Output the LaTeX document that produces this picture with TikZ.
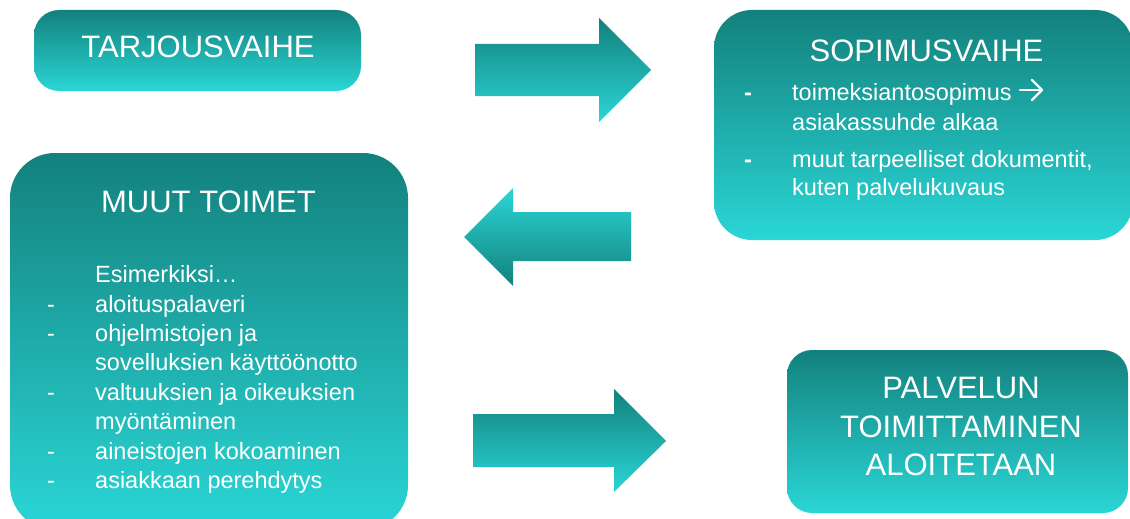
\documentclass[tikz,border=0pt]{standalone}
\usepackage{fontspec}
\setmainfont{Liberation Sans}
\definecolor{tealdark}{RGB}{19,129,125}
\definecolor{teallight}{RGB}{42,214,214}
\begin{document}
\begin{tikzpicture}[x=1pt,y=-1pt,
  box/.style={top color=tealdark,bottom color=teallight,draw=none},
  bigarrow/.style={top color=tealdark,bottom color=teallight,draw=none},
  bigarrowrev/.style={top color=teallight,bottom color=tealdark,draw=none},
  ttl/.style={inner sep=0pt,anchor=base,text=white,font=\fontsize{31}{37}\selectfont},
  txt/.style={inner sep=0pt,anchor=base west,text=white,font=\fontsize{23.5}{29}\selectfont},
  dsh/.style={inner sep=0pt,anchor=base west,text=white,font=\fontsize{23.5}{29}\selectfont},
  textarrow/.style={draw=white,line width=2.4pt,line cap=round,line join=round}]
\useasboundingbox (0,0) rectangle (1130,519);
\clip (0,0) rectangle (1130,519);
% boxes
\shade[box,rounded corners=25pt] (34,10) rectangle (361,91);
\shade[box,rounded corners=38pt] (714,10) rectangle (1133,240);
\shade[box,rounded corners=45pt] (10,153) rectangle (408,530);
\shade[box,rounded corners=25pt] (787,350) rectangle (1128,513);
% block arrows
\shade[bigarrow] (475,44) -- (599,44) -- (599,18) -- (651,70) -- (599,122) -- (599,96) -- (475,96) -- cycle;
\shade[bigarrowrev] (631,212) -- (513,212) -- (513,188) -- (464,237) -- (513,286) -- (513,261) -- (631,261) -- cycle;
\shade[bigarrow] (473,414) -- (614,414) -- (614,389) -- (666,441) -- (614,492) -- (614,467) -- (473,467) -- cycle;
% titles
\node[ttl] (t1) at (198,58) {TARJOUSVAIHE};
\node[ttl] (t2) at (926.5,62) {SOPIMUSVAIHE};
\node[ttl] (t3) at (208.5,212) {MUUT TOIMET};
\node[ttl] (t4a) at (961,398) {PALVELUN};
\node[ttl] (t4b) at (961,437) {TOIMITTAMINEN};
\node[ttl] (t4c) at (961,475) {ALOITETAAN};
% sopimus bullets
\node[dsh] (sd1) at (744,100) {\textbf{-}};
\node[dsh] (sd2) at (744,167) {\textbf{-}};
\node[txt] (s1) at (792,100) {toimeksiantosopimus};
\coordinate (arA) at (1020,90);
\coordinate (arB) at (1042,90);
\draw[textarrow] (arA) -- (arB);
\draw[textarrow] (1032,80) -- (arB) -- (1032,100);
\node[txt] (s2) at (792,130) {asiakassuhde alkaa};
\node[txt] (s3) at (792,167) {muut tarpeelliset dokumentit,};
\node[txt] (s4) at (792,195) {kuten palvelukuvaus};
% muut toimet list
\node[txt] (m0) at (95,282) {Esimerkiksi…};
\node[txt] (m1) at (95,312) {aloituspalaveri};
\node[txt] (m2) at (95,341) {ohjelmistojen ja};
\node[txt] (m3) at (95,370) {sovelluksien käyttöönotto};
\node[txt] (m4) at (95,400) {valtuuksien ja oikeuksien};
\node[txt] (m5) at (95,429) {myöntäminen};
\node[txt] (m6) at (95,459) {aineistojen kokoaminen};
\node[txt] (m7) at (95,488) {asiakkaan perehdytys};
\foreach \yy [count=\i] in {312,341,400,459,488}
  \node[dsh] (md\i) at (47,\yy) {-};
\end{tikzpicture}
\end{document}
